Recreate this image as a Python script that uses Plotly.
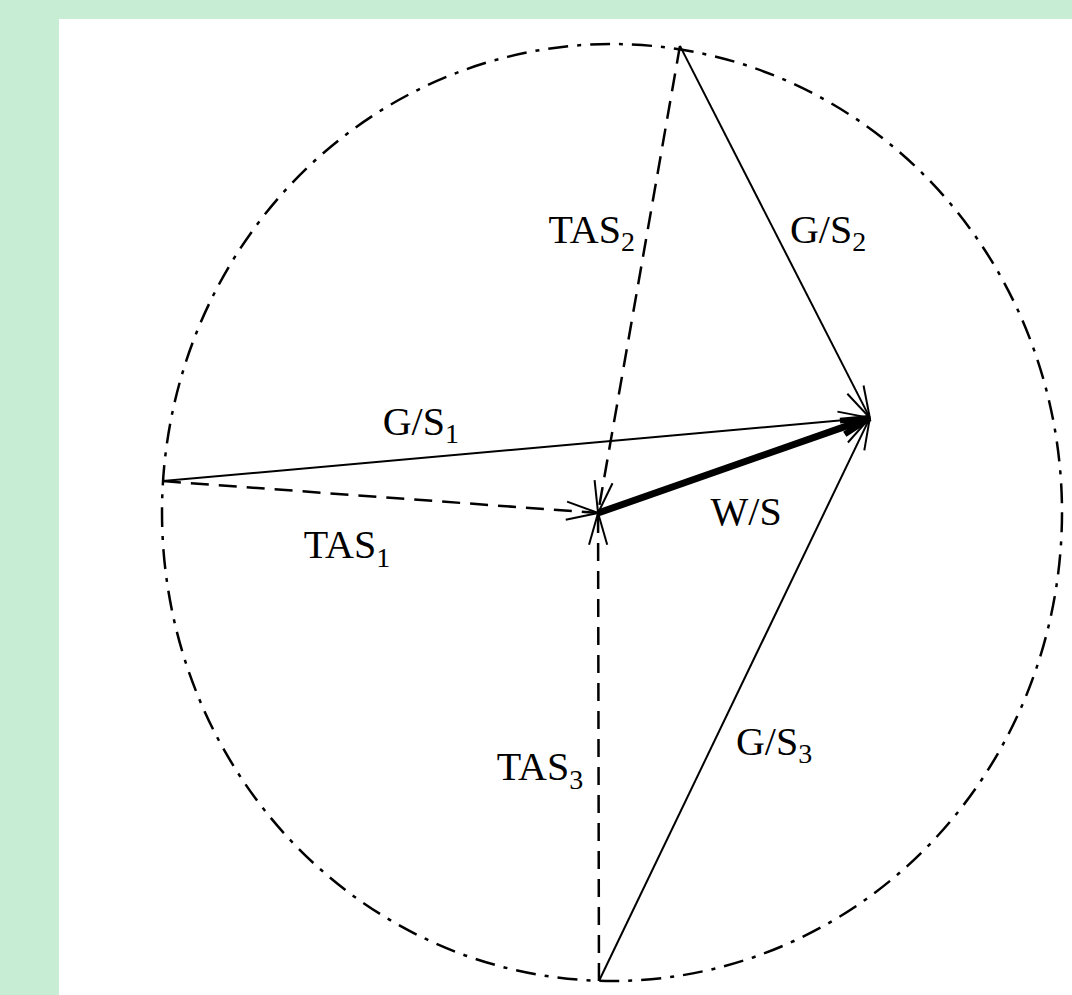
import numpy as np
import plotly.graph_objects as go

# ---- Data (unit-circle coordinates: circle of equal TAS radius) ----
start_names = ["1", "2", "3"]
start_x = [-0.998, 0.151, -0.029]      # start points on the circle
start_y = [0.067, 0.996, -1.0]
air_x, air_y = -0.031, -0.001          # common end of TAS vectors / start of W/S
tip_x, tip_y = 0.573, 0.202            # end of W/S, common end of G/S vectors

label_text = ["G/S<sub>1</sub>", "TAS<sub>1</sub>", "TAS<sub>2</sub>", "G/S<sub>2</sub>",
              "TAS<sub>3</sub>", "G/S<sub>3</sub>", "W/S"]
label_x = [-0.425, -0.589, -0.045, 0.480, -0.160, 0.360, 0.298]
label_y = [0.187, -0.076, 0.597, 0.597, -0.55, -0.496, -0.005]

# ---- Layout geometry ----
W, H = 1072, 995
ML, MT = 59, 19
x_range = [-1.2289, 1.0222]
y_range = [-1.0299, 1.0534]
sx = (W - ML) / (x_range[1] - x_range[0])   # px per unit
sy = (H - MT) / (y_range[1] - y_range[0])

fig = go.Figure()

def barbs(x0, y0, x1, y1, length=33, ang=16):
    dx, dy = (x1 - x0) * sx, (y1 - y0) * sy
    n = np.hypot(dx, dy)
    ux, uy = -dx / n, -dy / n
    xs, ys = [], []
    for a in (ang, -ang):
        r = np.radians(a)
        bx = ux * np.cos(r) - uy * np.sin(r)
        by = ux * np.sin(r) + uy * np.cos(r)
        xs += [x1 + bx * length / sx, x1, None]
        ys += [y1 + by * length / sy, y1, None]
    return xs, ys

def vector(x0, y0, x1, y1, dash, width, head_width, length=33, ang=16):
    fig.add_trace(go.Scatter(x=[x0, x1], y=[y0, y1], mode="lines",
                             line=dict(color="black", width=width, dash=dash),
                             hoverinfo="skip", showlegend=False))
    bx, by = barbs(x0, y0, x1, y1, length, ang)
    fig.add_trace(go.Scatter(x=bx, y=by, mode="lines",
                             line=dict(color="black", width=head_width),
                             hoverinfo="skip", showlegend=False))

for sxp, syp in zip(start_x, start_y):
    vector(sxp, syp, air_x, air_y, "18px,10px", 2.5, 2)   # TAS (dashed)
    vector(sxp, syp, tip_x, tip_y, "solid", 2, 2)          # G/S (solid)

vector(air_x, air_y, tip_x, tip_y, "solid", 7, 6, 30, 14)  # W/S (bold)

fig.add_trace(go.Scatter(x=label_x, y=label_y, mode="text", text=label_text,
                         textposition="middle center",
                         textfont=dict(family="Liberation Serif", size=40, color="black"),
                         hoverinfo="skip", showlegend=False))

fig.add_shape(type="circle", xref="x", yref="y", x0=-1, y0=-1, x1=1, y1=1,
              line=dict(color="black", width=2.5, dash="20px,9px,4px,9px"), layer="below")

fig.update_layout(
    width=W, height=H,
    margin=dict(l=ML, t=MT, r=0, b=0, pad=0),
    paper_bgcolor="#c7eed5", plot_bgcolor="white",
    xaxis=dict(range=x_range, visible=False, fixedrange=True),
    yaxis=dict(range=y_range, visible=False, fixedrange=True),
)

fig.write_html("out.html", config={"displayModeBar": False},
               post_script="document.body.style.margin='0';document.body.style.overflow='hidden';")
